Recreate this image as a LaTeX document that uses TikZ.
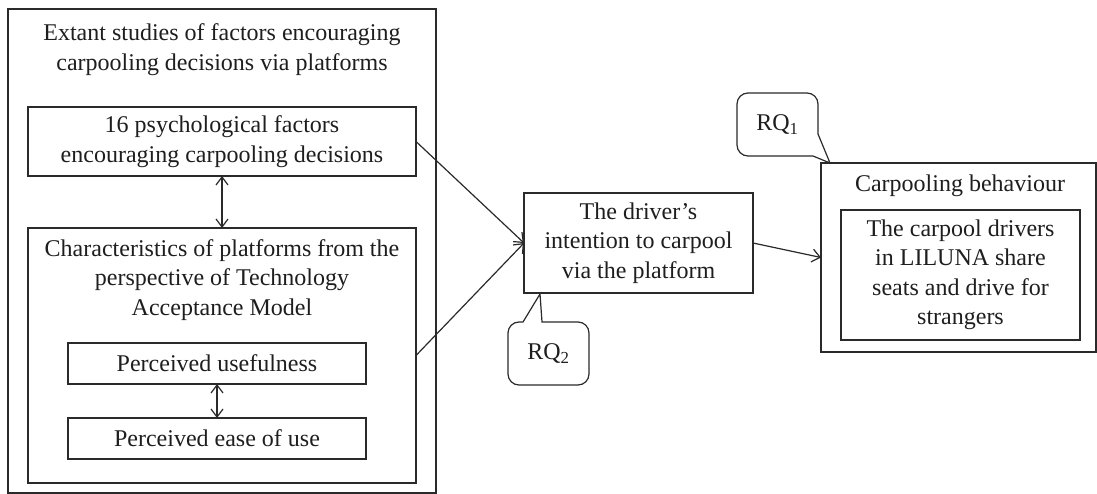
\documentclass[tikz,border=0pt]{standalone}
\usepackage{fontspec}
\setmainfont{Liberation Serif}
\usetikzlibrary{arrows.meta}
\definecolor{linecol}{HTML}{2A2A2A}
\definecolor{inkcol}{HTML}{1E1E1E}
\begin{document}
\begin{tikzpicture}[x=1pt,y=-1pt,
  every node/.style={font=\fontsize{24}{29.5}\selectfont, text=inkcol, inner sep=0pt, outer sep=0pt, align=center},
  box/.style={draw=linecol, line width=1.3pt, rectangle},
  caption/.style={},
  arr/.style={draw=linecol, line width=1.2pt, -{Straight Barb[length=8pt,width=13pt]}},
  darr/.style={draw=linecol, line width=1.2pt, {Straight Barb[length=8pt,width=12pt]}-{Straight Barb[length=8pt,width=12pt]}},
  bubble/.style={draw=linecol, line width=1.2pt, rounded corners=11pt}]
\useasboundingbox (0,0) rectangle (1097,494);
\fill[white] (0,0) rectangle (1097,494);

% left block: existing studies
\node[box, minimum width=428pt, minimum height=484pt] (studies) at (222,251) {};
\node[caption] (studiestitle) at (222,49.5) {Extant studies of factors encouraging\\carpooling decisions via platforms};

\node[box, minimum width=388pt, minimum height=69pt] (psy) at (222,141.5)
  {16 psychological factors\\encouraging carpooling decisions};

\node[box, minimum width=388pt, minimum height=255pt] (tam) at (222,355.5) {};
\node[caption] (tamtitle) at (222,280) {Characteristics of platforms from the\\perspective of Technology\\Acceptance Model};

\node[box, minimum width=298pt, minimum height=41pt] (pu) at (217,363.5) {Perceived usefulness};
\node[box, minimum width=298pt, minimum height=41pt] (peou) at (217,438.5) {Perceived ease of use};

% middle: intention
\node[box, minimum width=229pt, minimum height=100pt] (intent) at (638.5,243)
  {The driver’s\\intention to carpool\\via the platform};

% right block: behaviour
\node[box, minimum width=275pt, minimum height=189pt] (behav) at (958.5,257.5) {};
\node[caption] (behavtitle) at (960,186) {Carpooling behaviour};
\node[box, minimum width=239pt, minimum height=130pt] (drivers) at (960.5,275)
  {The carpool drivers\\in LILUNA share\\seats and drive for\\strangers};

% connectors
\draw[darr] (psy.south) -- (tam.north);
\draw[darr] (pu.south) -- (peou.north);
\draw[arr] (psy.east) -- (intent.west);
\draw[arr] (tam.east) -- (intent.west);
\draw[arr] (intent.east) -- (behav.west);

% research question bubbles
\node (rq1) at (777.5,124.5) {RQ\textsubscript{1}};
\coordinate (rq1tip) at (830,163);
\draw[bubble] (813,156) -- (737,156) -- (737,93) -- (818,93)
  [sharp corners] -- (818,134) -- (rq1tip) -- cycle;

\node (rq2) at (548.5,353.5) {RQ\textsubscript{2}};
\coordinate (rq2tip) at (540,294);
\draw[bubble] (542,322) -- (589,322) -- (589,385) -- (508,385) -- (508,322)
  [sharp corners] -- (523,322) -- (rq2tip) -- cycle;
\end{tikzpicture}
\end{document}
